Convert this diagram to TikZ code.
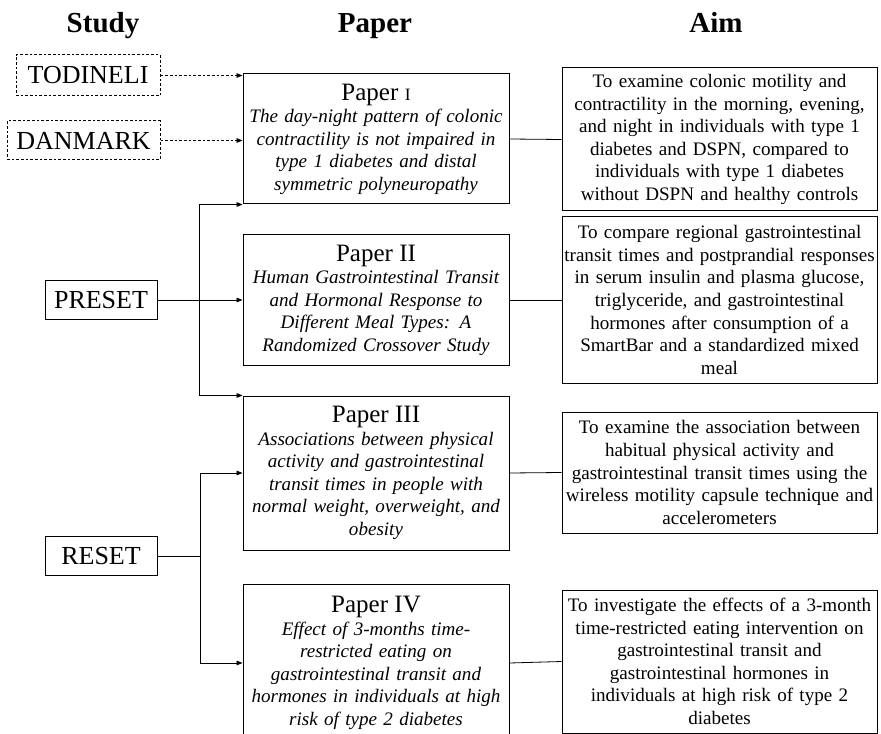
\documentclass[tikz,border=0pt]{standalone}
\usepackage{fontspec}
\setmainfont{Liberation Serif}
\usepackage{tikz}
\usetikzlibrary{arrows.meta,calc}
\usetikzlibrary{positioning}

\newcommand{\bodysize}{\fontsize{14.3pt}{16.9pt}\selectfont}
\newcommand{\titlesize}{\fontsize{18.75pt}{21pt}\selectfont}
\newcommand{\studysize}{\fontsize{19.5pt}{22pt}\selectfont}
\newcommand{\headsize}{\fontsize{21.75pt}{25pt}\selectfont}
\hyphenpenalty=10000
\exhyphenpenalty=10000

\tikzset{
  studybox/.style={draw, line width=0.75pt, inner sep=0pt, minimum height=29.25pt, font=\studysize},
  paperbox/.style={draw, line width=0.75pt, inner sep=0pt, text width=199.5pt, align=center, font=\bodysize\itshape},
  aimbox/.style={draw, line width=0.75pt, inner sep=0pt, text width=236.25pt, align=center, font=\bodysize},
  headlabel/.style={anchor=base, font=\headsize\bfseries},
  dotline/.style={dash pattern=on 2pt off 1.5pt},
  linkarrow/.style={-{Triangle[length=4.5pt,width=3.5pt]}},
}

\begin{document}
\begin{tikzpicture}[x=0.75pt,y=0.75pt,yscale=-1,xscale=1,line width=0.6pt]
\useasboundingbox (0,0) rectangle (881,734);

%Column heads
\node[headlabel] (hstudy) at (103,33) {Study};
\node[headlabel] (hpaper) at (375,33) {Paper};
\node[headlabel] (haim) at (716,33) {Aim};

%Shape: Rectangle (studies)
\node[studybox, dotline, minimum width=108pt, minimum height=30.75pt] (tod) at (88,75.5) {TODINELI};
\node[studybox, dotline, minimum width=114.75pt] (dan) at (83.5,140.5) {DANMARK};
\node[studybox, minimum width=84pt] (preset) at (101,300) {PRESET};
\node[studybox, minimum width=84pt] (reset) at (101,556) {RESET};

%Shape: Rectangle (papers)
\node[paperbox, minimum height=97.5pt] (p1) at (376,139) {{\upshape\titlesize Paper {\fontsize{13pt}{15pt}\selectfont I}}\\The day-night pattern of colonic\\contractility is not impaired in\\type 1 diabetes and distal\\symmetric polyneuropathy};
\node[paperbox, minimum height=97.5pt] (p2) at (376,300) {{\upshape\titlesize Paper II}\\Human Gastrointestinal Transit\\and Hormonal Response to\\Different Meal Types: A\\Randomized Crossover Study};
\node[paperbox, minimum height=115.5pt] (p3) at (376,473) {{\upshape\titlesize Paper III}\\Associations between physical\\activity and gastrointestinal\\transit times in people with\\normal weight, overweight, and\\obesity};
\node[paperbox, minimum height=118.5pt] (p4) at (376,663) {{\upshape\titlesize Paper IV}\\Effect of 3-months time-\\restricted eating on\\gastrointestinal transit and\\hormones in individuals at high\\risk of type 2 diabetes};

%Shape: Rectangle (aims)
\node[aimbox, minimum height=107.25pt] (a1) at (719.5,139.5) {To examine colonic motility and\\contractility in the morning, evening,\\and night in individuals with type 1\\diabetes and DSPN, compared to\\individuals with type 1 diabetes\\without DSPN and healthy controls};
\node[aimbox, minimum height=124.5pt] (a2) at (719.5,300) {To compare regional gastrointestinal\\transit times and postprandial responses\\in serum insulin and plasma glucose,\\triglyceride, and gastrointestinal\\hormones after consumption of a\\SmartBar and a standardized mixed\\meal};
\node[aimbox, minimum height=90.75pt] (a3) at (719.5,472.5) {To examine the association between\\habitual physical activity and\\gastrointestinal transit times using the\\wireless motility capsule technique and\\accelerometers};
\node[aimbox, minimum height=107.25pt] (a4) at (719.5,661.5) {To investigate the effects of a 3-month\\time-restricted eating intervention on\\gastrointestinal transit and\\gastrointestinal hormones in\\individuals at high risk of type 2\\diabetes};

%Straight Lines (dashed studies)
\draw[linkarrow, dotline] (tod.east) -- (tod.east -| p1.west);
\draw[linkarrow, dotline] (dan.east) -- (dan.east -| p1.west);

%Straight Lines (PRESET)
\coordinate (pbus) at (199.5,300);
\draw[linkarrow] (preset) -- (p2);
\draw (pbus |- p1.south west) -- (pbus |- p3.north west);
\draw[linkarrow] (pbus |- p1.south west) -- (p1.south west);
\draw[linkarrow] (pbus |- p3.north west) -- (p3.north west);

%Straight Lines (RESET)
\coordinate (rbus) at (200,556);
\draw (reset) -- (rbus);
\draw (rbus |- p3.west) -- (rbus |- p4.west);
\draw[linkarrow] (rbus |- p3.west) -- (p3.west);
\draw[linkarrow] (rbus |- p4.west) -- (p4.west);

%Straight Lines (paper to aim)
\foreach \i in {1,...,4} \draw (p\i.east) -- (a\i.west);

\end{tikzpicture}
\end{document}
